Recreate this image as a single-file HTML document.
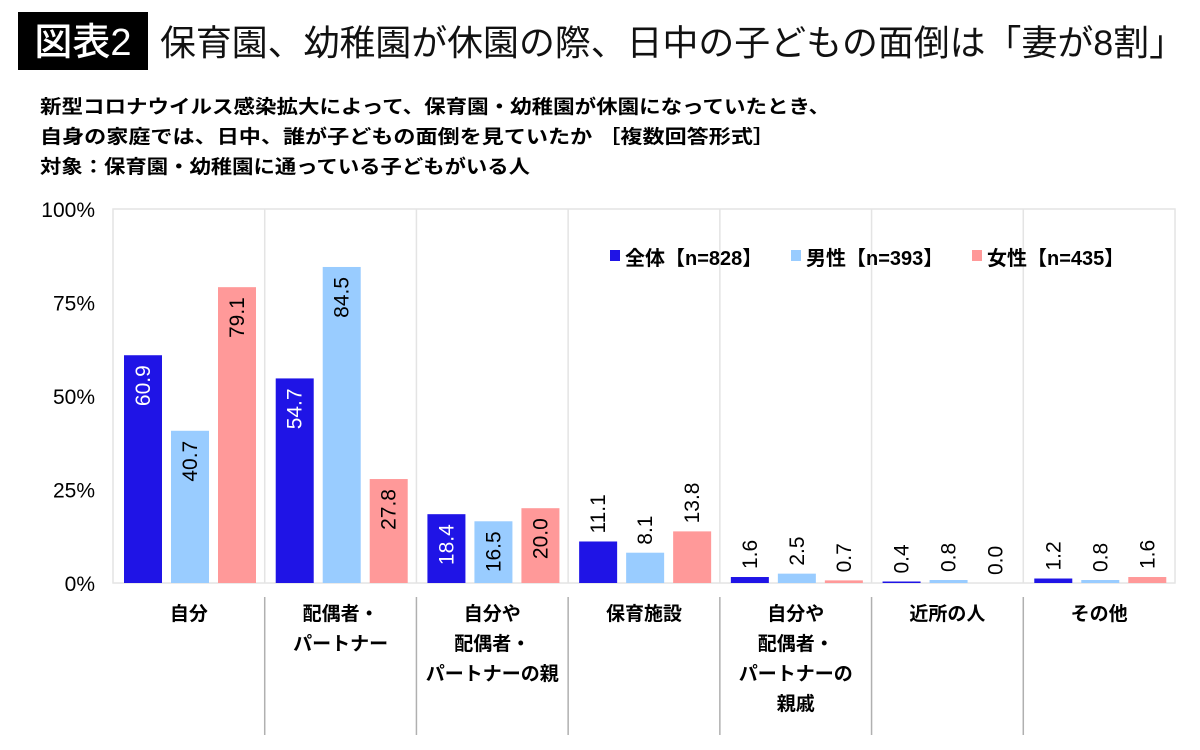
<!DOCTYPE html>
<html><head><meta charset="utf-8"><style>
body{margin:0;background:#fff;width:1200px;height:750px;overflow:hidden;font-family:"Liberation Sans","Noto Sans CJK JP",sans-serif;}
svg{display:block}
</style></head><body>
<svg id="chart" width="1200" height="750" xmlns="http://www.w3.org/2000/svg" font-family="Liberation Sans, Noto Sans CJK JP, sans-serif">
<rect x="18" y="12" width="130" height="58" fill="#000"/>
<text x="83" y="55" fill="#fff" font-size="38" text-anchor="middle" font-weight="500">図表2</text>
<text x="160" y="55" font-size="35.5" fill="#111" textLength="1025" lengthAdjust="spacingAndGlyphs">保育園、幼稚園が休園の際、日中の子どもの面倒は「妻が8割」</text>
<g font-size="19" font-weight="bold" fill="#000">
<text x="40" y="113" textLength="790" lengthAdjust="spacingAndGlyphs">新型コロナウイルス感染拡大によって、保育園・幼稚園が休園になっていたとき、</text>
<text x="40" y="143" textLength="735" lengthAdjust="spacingAndGlyphs">自身の家庭では、日中、誰が子どもの面倒を見ていたか ［複数回答形式］</text>
<text x="40" y="173" textLength="490" lengthAdjust="spacingAndGlyphs">対象：保育園・幼稚園に通っている子どもがいる人</text>
</g>
<g id="plot"></g>
<g font-size="20" font-weight="bold">
<rect x="610" y="250" width="10" height="11" fill="#1f14e6"/>
<text x="625" y="265">全体【n=828】</text>
<rect x="791" y="250" width="10" height="11" fill="#99ccff"/>
<text x="806" y="265">男性【n=393】</text>
<rect x="972" y="250" width="10" height="11" fill="#ff9999"/>
<text x="987" y="265">女性【n=435】</text>
</g>
</svg>
<script>
const categories=[["自分"],["配偶者・","パートナー"],["自分や","配偶者・","パートナーの親"],["保育施設"],["自分や","配偶者・","パートナーの","親戚"],["近所の人"],["その他"]];
const seriesAll=[60.9,54.7,18.4,11.1,1.6,0.4,1.2];
const seriesMale=[40.7,84.5,16.5,8.1,2.5,0.8,0.8];
const seriesFemale=[79.1,27.8,20.0,13.8,0.7,0.0,1.6];
const yTicks=[0,25,50,75,100];
const NS="http://www.w3.org/2000/svg";
const g=document.getElementById('plot');
const X0=113,X1=1175,Y0=583,Y1=209;
const cw=(X1-X0)/categories.length;
const y=v=>Y0-(v/100)*(Y0-Y1);
function mk(t,a){const e=document.createElementNS(NS,t);for(const k in a)e.setAttribute(k,a[k]);g.appendChild(e);return e;}
let fr=mk('rect',{x:X0,y:Y1,width:X1-X0,height:Y0-Y1,fill:'none',stroke:'#e4e4e4','stroke-width':1.5});


yTicks.forEach(t=>{const e=mk('text',{x:95,y:y(t)+8,'font-size':21,'text-anchor':'end',fill:'#000'});e.textContent=t+'%';

});
for(let i=1;i<categories.length;i++){const x=X0+cw*i;
const l=mk('line',{x1:x,x2:x,y1:Y1,y2:Y0,stroke:'#e4e4e4','stroke-width':1.5});


const s=mk('line',{x1:x,x2:x,y1:597,y2:735,stroke:'#b0b0b0','stroke-width':1.5});

}
const series=[[seriesAll,'#1f14e6','#fff','all'],[seriesMale,'#99ccff','#000','male'],[seriesFemale,'#ff9999','#000','female']];
categories.forEach((c,i)=>{
 const cx=X0+cw*i;
 series.forEach((s,j)=>{
  const v=s[0][i];const bx=cx+11+j*47;const bw=38;
  const r=mk('rect',{x:bx,y:y(v),width:bw,height:Y0-y(v),fill:s[1]});
  
  
  const inside=v>=15;
  const ty=inside?y(v)+10:y(v)-8;
  const tx=bx+bw/2+7;
  const t=mk('text',{x:tx,y:ty,'font-size':21,fill:inside?s[2]:'#000','text-anchor':inside?'end':'start',transform:`rotate(-90 ${tx} ${ty})`});
  t.textContent=v.toFixed(1);
  
  
 });
 c.forEach((ln,k)=>{const t=mk('text',{x:cx+cw/2,y:620+k*30,'font-size':19,'font-weight':'bold','text-anchor':'middle',fill:'#000'});t.textContent=ln;
 
 });
});
</script>
</body></html>
